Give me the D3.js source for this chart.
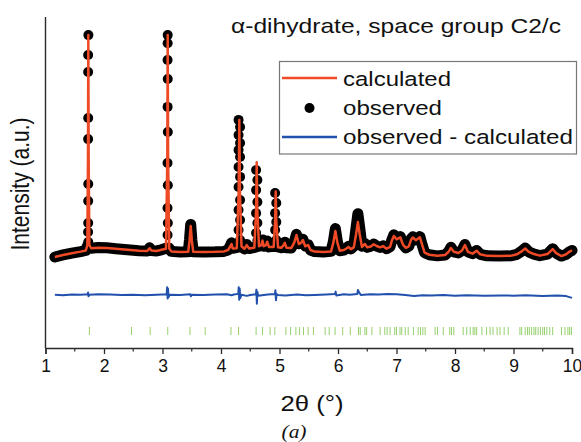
<!DOCTYPE html>
<html><head><meta charset="utf-8">
<script src="https://cdn.jsdelivr.net/npm/d3@7"></script>
<style>html,body{margin:0;padding:0;background:#fff;} svg{display:block;}</style>
</head><body>
<svg id="chart" width="581" height="442"></svg>
<script>
// ---------- data ----------
const xTicks = [1,2,3,4,5,6,7,8,9,10];
const xMinorTicks = [1.5,2.5,3.5,4.5,5.5,6.5,7.5,8.5,9.5];
const titleText = "α-dihydrate, space group C2/c";
const legendLabels = ["calculated","observed","observed - calculated"];

// calculated profile [2θ, intensity]
const calcPts = [
[1.16,0.7],[1.3,1.6],[1.45,2.4],[1.6,3.1],[1.69,3.6],[1.715,6],[1.726,45],[1.732,100],[1.738,45],[1.75,6],[1.78,4.6],[1.9,4.8],[2.05,4.7],[2.2,4.4],[2.4,3.9],[2.6,3.5],[2.74,3.4],[2.78,4.6],[2.81,3.6],[2.9,3.4],[2.98,3.9],[3.06,4.4],[3.082,45],[3.089,100],[3.096,45],[3.115,4.5],[3.15,3.2],[3.3,2.9],[3.44,3.0],[3.462,8],[3.482,14.5],[3.502,8],[3.525,3.0],[3.7,2.9],[3.9,3.0],[4.05,3.2],[4.12,3.8],[4.16,5.5],[4.18,6.5],[4.2,4.5],[4.27,4.6],[4.302,30],[4.313,62],[4.324,30],[4.35,5.5],[4.4,4.3],[4.44,6],[4.48,4.5],[4.57,4.8],[4.6,22],[4.61,43],[4.62,22],[4.65,5.5],[4.69,6],[4.71,8],[4.73,5.5],[4.77,6],[4.79,7.5],[4.82,5.2],[4.9,5.2],[4.925,17],[4.935,30],[4.945,17],[4.975,5],[5.03,4.8],[5.07,6],[5.09,7],[5.12,4.8],[5.2,4.7],[5.25,7],[5.29,10.5],[5.33,6.5],[5.37,7],[5.40,8.3],[5.44,5.5],[5.49,6],[5.53,3.8],[5.6,3.1],[5.75,2.9],[5.88,3.2],[5.92,7],[5.955,12.3],[5.99,7],[6.03,3.5],[6.1,3.8],[6.15,4.6],[6.18,5.2],[6.22,4.2],[6.27,5],[6.31,11],[6.34,16.3],[6.37,11],[6.41,5.2],[6.46,6.5],[6.5,5],[6.56,5.4],[6.61,6.4],[6.66,5.6],[6.72,5],[6.77,5.6],[6.83,4.4],[6.89,5.2],[6.92,8],[6.955,10.1],[7.0,8.6],[7.065,9.5],[7.11,6.2],[7.16,4.8],[7.21,5.4],[7.25,8.5],[7.28,9.4],[7.33,8.2],[7.4,9.5],[7.44,6],[7.48,2.6],[7.56,1.7],[7.7,1.2],[7.83,1.6],[7.89,3],[7.93,4.7],[7.98,3],[8.06,2.5],[8.12,3.6],[8.17,6],[8.22,3],[8.3,2.2],[8.37,3.5],[8.43,1.9],[8.55,1.2],[8.75,1.1],[8.95,1.2],[9.06,1.9],[9.14,3.2],[9.2,4.5],[9.26,3],[9.35,2],[9.45,1.3],[9.58,2],[9.67,4.2],[9.73,2.4],[9.82,1.1],[9.9,1.9],[9.96,3.1],[10.0,3.6]
];

// observed profile (continuous dense part) [2θ, intensity]
const obsProfile = [
[1.16,0.7],[1.3,1.6],[1.45,2.4],[1.6,3.1],[1.69,3.6],[1.715,5.5],[1.75,5.5],[1.78,4.6],[1.9,4.9],[2.05,4.8],[2.2,4.4],[2.4,3.9],[2.6,3.5],[2.74,3.4],[2.78,4.8],[2.81,3.6],[2.9,3.4],[2.98,3.9],[3.06,4.6],[3.115,4.6],[3.15,3.2],[3.3,2.9],[3.44,3.0],[3.462,8.5],[3.482,15.2],[3.502,8.5],[3.525,3.0],[3.7,2.9],[3.9,3.0],[4.05,3.2],[4.12,3.8],[4.16,5.8],[4.18,7],[4.2,4.6],[4.28,5],[4.34,5.5],[4.4,4.3],[4.44,6.3],[4.48,4.5],[4.58,5],[4.64,5.5],[4.69,6],[4.71,8.3],[4.73,5.5],[4.77,6],[4.79,7.8],[4.82,5.2],[4.91,5.5],[4.96,5.3],[5.03,4.8],[5.07,6],[5.09,7.3],[5.12,4.8],[5.2,4.7],[5.25,7.2],[5.29,10.8],[5.33,6.6],[5.37,7.2],[5.40,8.6],[5.44,5.6],[5.49,6.2],[5.53,3.8],[5.6,3.1],[5.75,2.9],[5.88,3.2],[5.92,7.5],[5.955,13.4],[5.99,7.5],[6.03,3.5],[6.1,3.8],[6.15,4.8],[6.18,5.4],[6.22,4.3],[6.27,5.5],[6.305,13],[6.34,20],[6.375,13],[6.41,5.5],[6.46,6.7],[6.5,5],[6.56,5.5],[6.61,6.5],[6.66,5.6],[6.72,5],[6.77,5.7],[6.83,4.4],[6.89,5.3],[6.92,8.3],[6.955,10.6],[7.0,9],[7.065,9.8],[7.11,6.3],[7.16,4.8],[7.21,5.5],[7.25,8.8],[7.28,9.7],[7.33,8.4],[7.4,9.8],[7.44,6],[7.48,2.6],[7.56,1.7],[7.7,1.2],[7.83,1.6],[7.89,3.1],[7.93,5],[7.98,3],[8.06,2.5],[8.12,3.7],[8.17,6.3],[8.22,3],[8.3,2.2],[8.37,3.6],[8.43,1.9],[8.55,1.2],[8.75,1.1],[8.95,1.2],[9.06,1.9],[9.14,3.3],[9.2,4.7],[9.26,3],[9.35,2],[9.45,1.3],[9.58,2],[9.67,4.4],[9.73,2.4],[9.82,1.1],[9.9,1.9],[9.96,3.1],[10.0,3.6]
];

// observed points on the flanks of the strong, sharp reflections [2θ, intensity]
const obsPeakDots = [
[1.733,99.9],[1.729,91],[1.729,83.4],[1.730,62.8],[1.729,53.4],[1.731,33.3],[1.730,25.7],[1.730,15.9],[1.728,11.9],[1.731,7.4],
[3.089,99.9],[3.088,96.3],[3.087,88.8],[3.090,80.3],[3.087,67.8],[3.091,56.6],[3.086,42.7],[3.091,32.8],[3.086,22.6],[3.091,15.9],[3.087,10.5],
[4.300,62],[4.326,58.8],[4.300,55.2],[4.326,51.7],[4.300,48.5],[4.326,45.4],[4.300,40.9],[4.326,36.5],[4.300,32],[4.326,26.2],[4.300,21.7],[4.326,17.2],[4.300,12.8],[4.326,8.3],
[4.600,39.6],[4.622,35.1],[4.600,30.6],[4.622,25.3],[4.600,20.3],[4.622,15.9],[4.600,11.4],[4.622,8],
[4.925,29.3],[4.945,24.8],[4.925,20.3],[4.945,16.3],[4.925,12.8],[4.945,8.3]
];

// observed - calculated (offset) [2θ, intensity]
const diffPts = [
[1.16,-16.2],[1.3,-16.4],[1.45,-16.1],[1.6,-16.2],[1.72,-16.0],[1.728,-15.2],[1.736,-16.9],[1.75,-16.2],[1.9,-16.0],[2.1,-16.1],[2.3,-16.3],[2.5,-16.2],[2.7,-16.4],[2.9,-16.2],[3.07,-16.0],[3.080,-12.8],[3.087,-17.9],[3.094,-13.4],[3.102,-17.3],[3.12,-16.2],[3.3,-16.3],[3.475,-16.0],[3.485,-16.9],[3.5,-16.2],[3.7,-16.3],[3.9,-16.1],[4.1,-16.0],[4.18,-16.4],[4.22,-16.1],[4.295,-15.8],[4.303,-12.8],[4.311,-18.4],[4.319,-13.4],[4.328,-17.7],[4.35,-16.2],[4.44,-16.7],[4.5,-16.3],[4.597,-16.0],[4.605,-13.9],[4.613,-20.2],[4.621,-14.8],[4.635,-16.6],[4.7,-16.4],[4.8,-16.1],[4.92,-15.9],[4.93,-14.2],[4.94,-18.6],[4.95,-15.8],[4.97,-16.3],[5.1,-16.5],[5.3,-16.1],[5.45,-16.4],[5.6,-16.3],[5.8,-16.1],[5.95,-15.9],[5.96,-14.8],[5.97,-16.5],[6.1,-16.0],[6.2,-16.2],[6.33,-15.9],[6.34,-14.1],[6.36,-15.1],[6.39,-16.3],[6.55,-16.0],[6.7,-16.1],[6.85,-15.9],[7.0,-16.0],[7.15,-16.3],[7.3,-16.7],[7.45,-16.4],[7.6,-16.5],[7.8,-16.3],[8.0,-16.6],[8.2,-16.4],[8.5,-16.6],[8.8,-16.5],[9.0,-16.6],[9.2,-16.4],[9.5,-16.7],[9.75,-16.5],[9.9,-16.8],[10.0,-17.6]
];

// Bragg reflection positions (2θ)
const reflections = [1.75,2.47,2.79,3.09,3.47,3.73,4.17,4.30,4.60,4.71,4.84,4.92,5.11,5.19,5.28,5.34,5.41,5.49,5.58,5.78,5.85,5.95,6.08,6.21,6.35,6.38,6.46,6.49,6.58,6.72,6.80,6.84,6.89,6.97,7.00,7.06,7.09,7.15,7.20,7.29,7.37,7.41,7.45,7.49,7.66,7.70,7.80,7.91,7.94,7.98,8.14,8.20,8.26,8.31,8.34,8.37,8.46,8.54,8.60,8.65,8.72,8.77,8.84,8.91,9.11,9.14,9.20,9.24,9.27,9.31,9.35,9.38,9.42,9.46,9.50,9.53,9.57,9.62,9.67,9.82,9.88,9.93,9.96,9.99];
const reflectionBand = [-30.6, -34.2];

// ---------- drawing ----------
const svg = d3.select("#chart");
const FONT = "'Liberation Sans', Arial, Helvetica, sans-serif";
svg.append("rect").attr("width",581).attr("height",442).attr("fill","#fff");

const x = d3.scaleLinear().domain([1,10]).range([45.5,572]);
const y = d3.scaleLinear().domain([-40,108]).range([348,17]);

const RED = "#ef4a26", BLUE = "#2150ad", GREEN = "#96d06c";
const line = d3.line().x(d=>x(d[0])).y(d=>y(d[1]));

// reflection ticks
svg.append("g").selectAll("line").data(reflections).join("line")
  .attr("x1",d=>x(d)).attr("x2",d=>x(d))
  .attr("y1",y(reflectionBand[0])).attr("y2",y(reflectionBand[1]))
  .attr("stroke",GREEN).attr("stroke-width",1);

// observed band
svg.append("path").datum(obsProfile).attr("d",line)
  .attr("fill","none").attr("stroke","#000").attr("stroke-width",11)
  .attr("stroke-linejoin","round").attr("stroke-linecap","round");
svg.append("g").selectAll("circle").data(obsPeakDots).join("circle")
  .attr("cx",d=>x(d[0])).attr("cy",d=>y(d[1])).attr("r",5).attr("fill","#000");

// calculated
svg.append("path").datum(calcPts).attr("d",line)
  .attr("fill","none").attr("stroke",RED).attr("stroke-width",2.5)
  .attr("stroke-linejoin","round");

// difference
svg.append("path").datum(diffPts).attr("d",line)
  .attr("fill","none").attr("stroke",BLUE).attr("stroke-width",2)
  .attr("stroke-linejoin","round");

// axes
const axisColor = "#2a2a2a";
svg.append("line").attr("x1",x(1)).attr("x2",x(1)).attr("y1",y(108)).attr("y2",y(-40))
  .attr("stroke",axisColor).attr("stroke-width",1.4);
const xAxis = svg.append("g").attr("transform",`translate(0,${y(-40)})`)
  .call(d3.axisBottom(x).tickValues(xTicks).tickFormat(d3.format("d")).tickSize(6).tickPadding(6));
xAxis.select(".domain").attr("stroke",axisColor).attr("stroke-width",1.4);
xAxis.selectAll(".tick line").attr("stroke",axisColor).attr("stroke-width",1.3);
xAxis.selectAll("text").attr("font-family",FONT).attr("font-size",17.5).attr("fill","#111");
svg.append("g").selectAll("line").data(xMinorTicks).join("line")
  .attr("x1",d=>x(d)).attr("x2",d=>x(d)).attr("y1",y(-40)).attr("y2",y(-40)+3.5)
  .attr("stroke",axisColor).attr("stroke-width",1.2);

// axis titles
svg.append("text").attr("x",312).attr("y",411).attr("text-anchor","middle")
  .attr("font-family",FONT).attr("font-size",22).attr("fill","#111")
  .attr("textLength",63).attr("lengthAdjust","spacingAndGlyphs").text("2θ (°)");
svg.append("text").attr("transform","translate(29,184) scale(1.2,1) rotate(-90)")
  .attr("text-anchor","middle").attr("font-family",FONT).attr("font-size",21).attr("fill","#111")
  .text("Intensity (a.u.)");
svg.append("text").attr("x",294).attr("y",438).attr("text-anchor","middle")
  .attr("font-family","'Liberation Serif','Times New Roman',serif").attr("font-style","italic")
  .attr("font-size",19).attr("fill","#111").attr("textLength",25).attr("lengthAdjust","spacingAndGlyphs").text("(a)");

// title
svg.append("text").attr("x",231).attr("y",33).attr("font-family",FONT).attr("font-size",21)
  .attr("fill","#111").attr("textLength",330).attr("lengthAdjust","spacingAndGlyphs").text(titleText);

// legend
const lg = svg.append("g");
lg.append("rect").attr("x",279.5).attr("y",61.5).attr("width",297).attr("height",92.5)
  .attr("fill","#fff").attr("stroke","#777").attr("stroke-width",1.2);
lg.append("line").attr("x1",282).attr("x2",337).attr("y1",78).attr("y2",78).attr("stroke",RED).attr("stroke-width",2.4);
lg.append("circle").attr("cx",309.5).attr("cy",108).attr("r",5).attr("fill","#000");
lg.append("line").attr("x1",282).attr("x2",337).attr("y1",137).attr("y2",137).attr("stroke",BLUE).attr("stroke-width",2.4);
const legendY = [86,115,144], legendW = [108,99,230];
lg.selectAll("text").data(legendLabels).join("text")
  .attr("x",343).attr("y",(d,i)=>legendY[i]).attr("font-family",FONT).attr("font-size",20.5).attr("fill","#111")
  .attr("textLength",(d,i)=>legendW[i]).attr("lengthAdjust","spacingAndGlyphs").text(d=>d);
</script>
</body></html>
